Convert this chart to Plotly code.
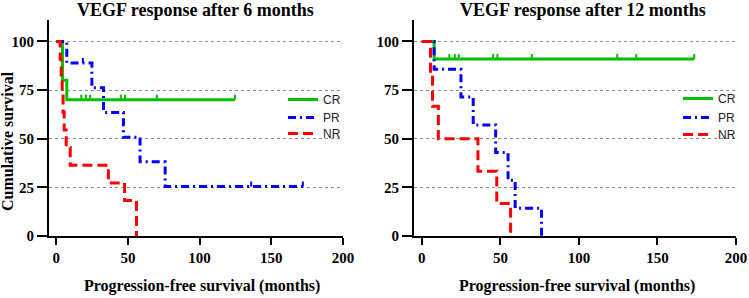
import plotly.graph_objects as go

# ---------------- data ----------------
# Panel A: VEGF response after 6 months
cr6_t = [0, 4.4, 7.4, 124.7]
cr6_s = [100, 80.0, 70.0, 70.0]
cr6_cens_t = [17.5, 20.8, 23.7, 45.1, 48.1, 70.2, 124.7]
cr6_cens_s = [70.0, 70.0, 70.0, 70.0, 70.0, 70.0, 70.0]

pr6_t = [0, 7.4, 24.9, 33.0, 46.9, 58.5, 76.0, 172.0]
pr6_s = [100, 88.9, 76.2, 63.5, 50.8, 38.1, 25.4, 25.4]
pr6_cens_t = [18.6, 136.0, 172.0]
pr6_cens_s = [88.9, 25.4, 25.4]

nr6_t = [0, 2.8, 3.5, 4.2, 4.8, 5.6, 7.0, 9.8, 36.4, 47.7, 56.0]
nr6_s = [100, 90.9, 81.8, 72.7, 63.6, 54.5, 45.5, 36.4, 27.3, 18.2, 0]

# Panel B: VEGF response after 12 months
cr12_t = [0, 7.8, 173.4]
cr12_s = [100, 90.9, 90.9]
cr12_cens_t = [17.5, 21.0, 23.5, 45.4, 48.1, 70.0, 124.4, 136.5, 173.4]
cr12_cens_s = [90.9] * 9

pr12_t = [0, 7.8, 24.9, 32.7, 47.0, 54.9, 59.4, 76.2]
pr12_s = [100, 85.7, 71.4, 57.1, 42.9, 28.6, 14.3, 0]

nr12_t = [0, 5.5, 6.8, 10.5, 35.7, 47.7, 56.5]
nr12_s = [100, 83.3, 66.7, 50.0, 33.3, 16.7, 0]

x_ticks = [0, 50, 100, 150, 200]
y_ticks = [0, 25, 50, 75, 100]
titles = ["VEGF response after 6 months", "VEGF response after 12 months"]
x_title = "Progression-free survival (months)"
y_title = "Cumulative survival"
groups = ["CR", "PR", "NR"]

# ---------------- styles ----------------
W, H = 749, 298
GREEN, BLUE, RED = "#00c000", "#0000ff", "#ff0000"
SERIF = "Liberation Serif"
SANS = "Liberation Sans"
TICK_H = 2.6  # censor tick height in survival units
DASH_PR = "8px,4px,2px,4px"
DASH_NR = "10px,5px"

fig = go.Figure()


def add_curve(t, s, color, dash, name, xa, ya, legend):
    fig.add_trace(go.Scatter(
        x=t, y=s, mode="lines", name=name,
        line=dict(shape="hv", color=color, width=3, dash=dash),
        xaxis=xa, yaxis=ya, legend=legend, showlegend=True,
        hoverinfo="skip"))


def add_censor(ct, cs, color, xa, ya):
    xs, ys = [], []
    for t, s in zip(ct, cs):
        xs += [t, t, None]
        ys += [s, s + TICK_H, None]
    fig.add_trace(go.Scatter(
        x=xs, y=ys, mode="lines", line=dict(color=color, width=2),
        xaxis=xa, yaxis=ya, showlegend=False, hoverinfo="skip"))


# panel A (legends: legend, legend2, legend3)
add_curve(cr6_t, cr6_s, GREEN, "solid", groups[0], "x", "y", "legend")
add_censor(cr6_cens_t, cr6_cens_s, GREEN, "x", "y")
add_curve(pr6_t, pr6_s, BLUE, DASH_PR, groups[1], "x", "y", "legend2")
add_censor(pr6_cens_t, pr6_cens_s, BLUE, "x", "y")
add_curve(nr6_t, nr6_s, RED, DASH_NR, groups[2], "x", "y", "legend3")

# panel B (legends: legend4, legend5, legend6)
add_curve(cr12_t, cr12_s, GREEN, "solid", groups[0], "x2", "y2", "legend4")
add_censor(cr12_cens_t, cr12_cens_s, GREEN, "x2", "y2")
add_curve(pr12_t, pr12_s, BLUE, DASH_PR, groups[1], "x2", "y2", "legend5")
add_curve(nr12_t, nr12_s, RED, DASH_NR, groups[2], "x2", "y2", "legend6")

tickfont = dict(family=SERIF, size=15, color="black", weight="bold")

xax = dict(range=[-5, 200], tickvals=x_ticks, showline=True, linecolor="black",
           linewidth=2, ticks="outside", ticklen=7, tickwidth=2, tickcolor="black",
           showgrid=False, zeroline=False, tickfont=tickfont, fixedrange=True)
yax = dict(range=[0, 111], tickvals=y_ticks, showline=True, linecolor="black",
           linewidth=2, ticks="outside", ticklen=10, tickwidth=2, tickcolor="black",
           showgrid=True, gridcolor="#8c8c8c", gridwidth=1, griddash="dot",
           zeroline=False, tickfont=tickfont, fixedrange=True)

ydom = [(H - 236) / H, (H - 20) / H]

legfont = dict(family=SANS, size=12, color="#222")


def leg(xpix, center_pix):
    return dict(x=xpix / W, y=(H - (center_pix - 14)) / H, xanchor="left",
                yanchor="top", bgcolor="rgba(0,0,0,0)", font=legfont, itemwidth=30)


fig.update_layout(
    width=W, height=H, template="none",
    paper_bgcolor="white", plot_bgcolor="white",
    margin=dict(l=0, r=0, t=0, b=0),
    xaxis=dict(xax, domain=[49 / W, 343 / W], anchor="y"),
    yaxis=dict(yax, domain=ydom, anchor="x"),
    xaxis2=dict(xax, domain=[414 / W, 736 / W], anchor="y2"),
    yaxis2=dict(yax, domain=ydom, anchor="x2"),
    legend=leg(283, 99), legend2=leg(283, 117), legend3=leg(283, 133),
    legend4=leg(678, 98), legend5=leg(678, 117), legend6=leg(678, 134),
    showlegend=True,
)

ann = []
for cx, txt in [(196, titles[0]), (583, titles[1])]:
    ann.append(dict(x=cx / W, y=(H - 10) / H, xref="paper", yref="paper", text=txt,
                    showarrow=False, xanchor="center", yanchor="middle",
                    font=dict(family=SERIF, size=18, color="black", weight="bold")))
for cx in [202, 577]:
    ann.append(dict(x=cx / W, y=(H - 286) / H, xref="paper", yref="paper", text=x_title,
                    showarrow=False, xanchor="center", yanchor="middle",
                    font=dict(family=SERIF, size=16, color="black", weight="bold")))
ann.append(dict(x=7 / W, y=(H - 141) / H, xref="paper", yref="paper", text=y_title,
                showarrow=False, xanchor="center", yanchor="middle", textangle=-90,
                font=dict(family=SERIF, size=16, color="black", weight="bold")))
fig.update_layout(annotations=ann)

fig.write_html("out.html", config={"displayModeBar": False},
               post_script="document.body.style.margin='0px';"
                           "document.body.style.overflow='hidden';")
